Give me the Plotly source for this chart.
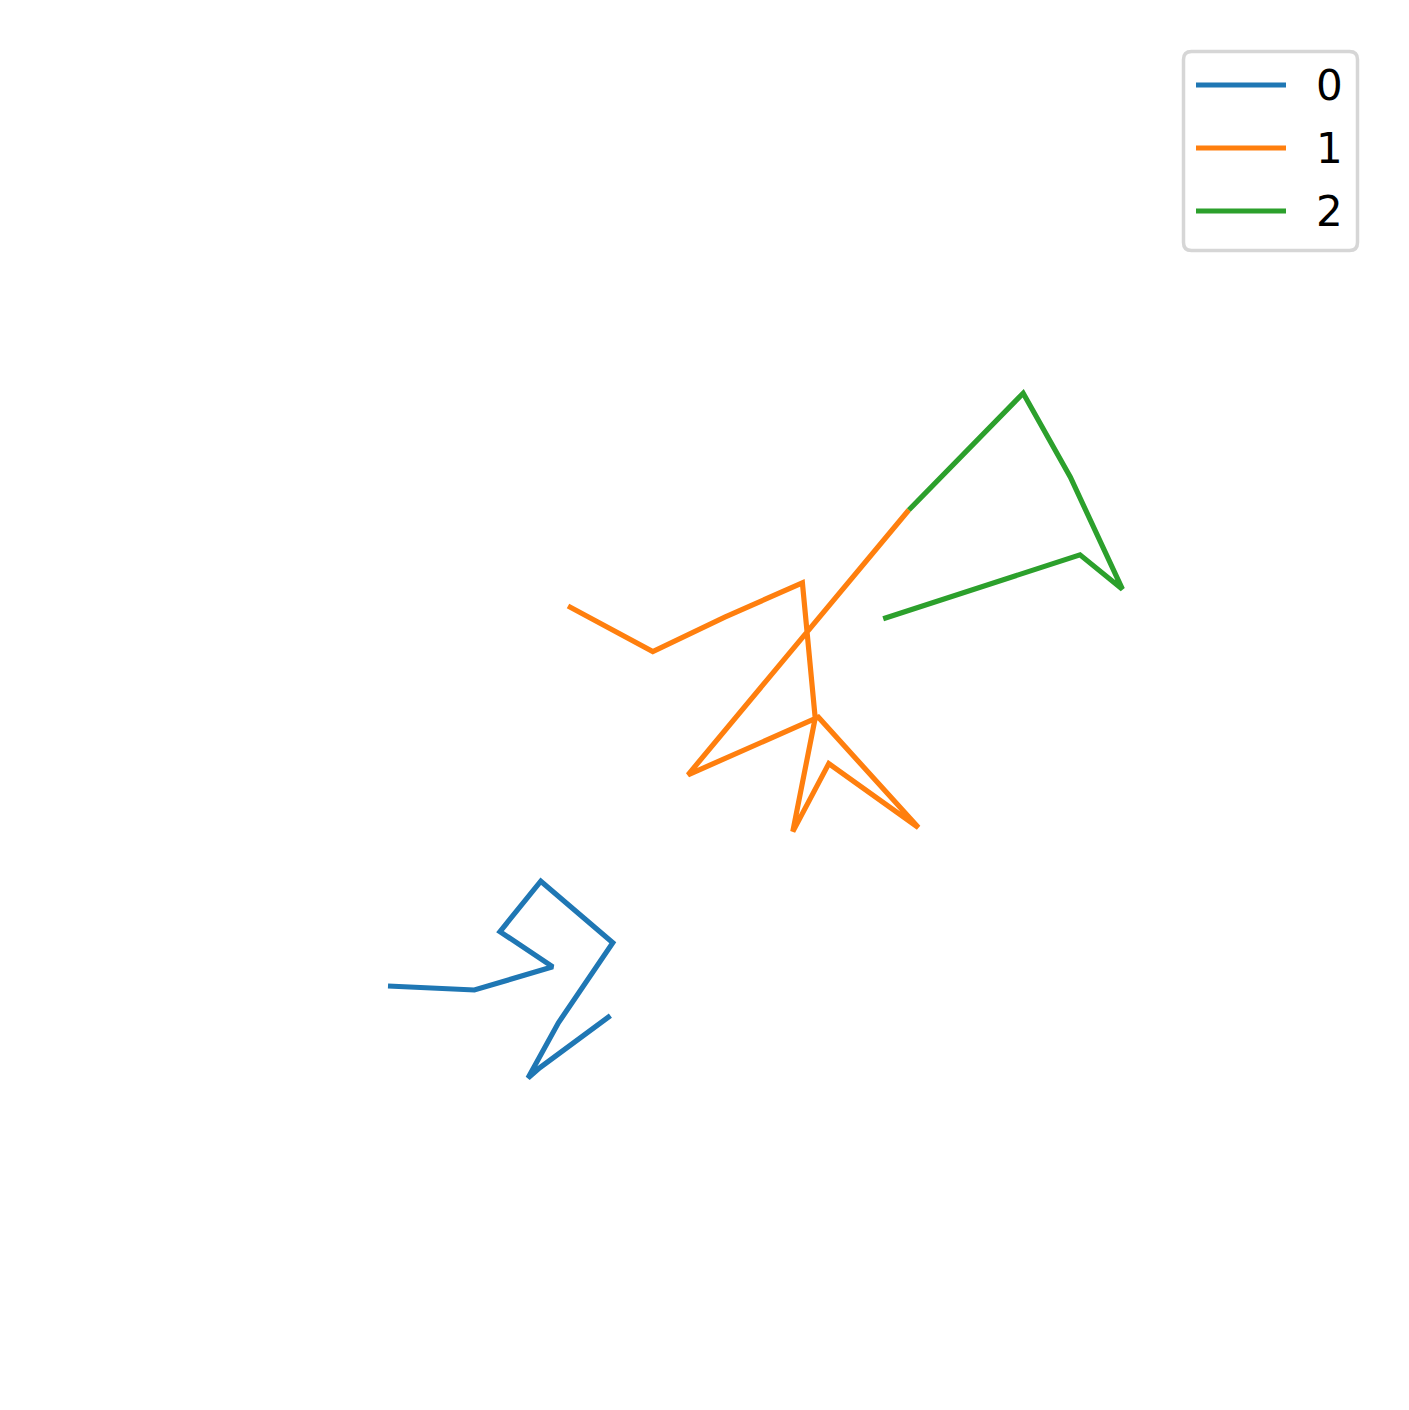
import plotly.graph_objects as go

# Data (arbitrary units)
series_names = ["0", "1", "2"]
x0 = [1.10, 2.18, 3.16, 2.50, 3.01, 3.91, 3.23, 2.85, 3.00, 3.88]
y0 = [2.05, 2.00, 2.29, 2.73, 3.36, 2.59, 1.59, 0.90, 1.03, 1.68]
x1 = [3.35, 4.41, 5.31, 6.28, 6.44, 6.16, 6.61, 7.73, 6.48, 4.85, 7.61]
y1 = [6.80, 6.23, 6.66, 7.09, 5.40, 3.98, 4.83, 4.03, 5.41, 4.69, 8.00]
x2 = [7.61, 9.04, 9.63, 10.28, 9.75, 7.29]
y2 = [8.00, 9.46, 8.41, 7.01, 7.44, 6.64]

colors = ["#1f77b4", "#ff7f0e", "#2ca02c"]
W, H = 1409, 1410

fig = go.Figure()
for name, xs, ys, c in zip(series_names, [x0, x1, x2], [y0, y1, y2], colors):
    fig.add_trace(go.Scatter(x=xs, y=ys, mode="lines", name=name,
                             line=dict(color=c, width=5.2), showlegend=False))

def px(x):
    return x / W

def py(y):
    return 1 - y / H

# custom legend (matplotlib style)
l, t, r, b, rad = 1183.5, 51.5, 1357.5, 250.5, 8
path = (f"M {px(l+rad)},{py(t)} L {px(r-rad)},{py(t)} Q {px(r)},{py(t)} {px(r)},{py(t+rad)} "
        f"L {px(r)},{py(b-rad)} Q {px(r)},{py(b)} {px(r-rad)},{py(b)} "
        f"L {px(l+rad)},{py(b)} Q {px(l)},{py(b)} {px(l)},{py(b-rad)} "
        f"L {px(l)},{py(t+rad)} Q {px(l)},{py(t)} {px(l+rad)},{py(t)} Z")
shapes = [dict(type="path", xref="paper", yref="paper", path=path,
               line=dict(color="#d6d6d6", width=3.5), fillcolor="rgba(255,255,255,0.8)", layer="above")]
annotations = []
rows = [85, 148, 211]
for name, c, yy in zip(series_names, colors, rows):
    shapes.append(dict(type="line", xref="paper", yref="paper",
                       x0=px(1196), x1=px(1286), y0=py(yy), y1=py(yy),
                       line=dict(color=c, width=5.2), layer="above"))
    annotations.append(dict(x=px(1314), y=py(yy), xref="paper", yref="paper",
                            text=name, showarrow=False, xanchor="left", yanchor="middle",
                            font=dict(family="DejaVu Sans", size=42, color="black")))

fig.update_layout(
    width=W, height=H,
    margin=dict(l=0, r=0, t=0, b=0),
    paper_bgcolor="white", plot_bgcolor="white",
    xaxis=dict(visible=False, range=[-300 / 80, (W - 300) / 80]),
    yaxis=dict(visible=False, range=[(1150 - H) / 80, 1150 / 80]),
    shapes=shapes, annotations=annotations,
    showlegend=False,
)
fig.write_html("out.html")
